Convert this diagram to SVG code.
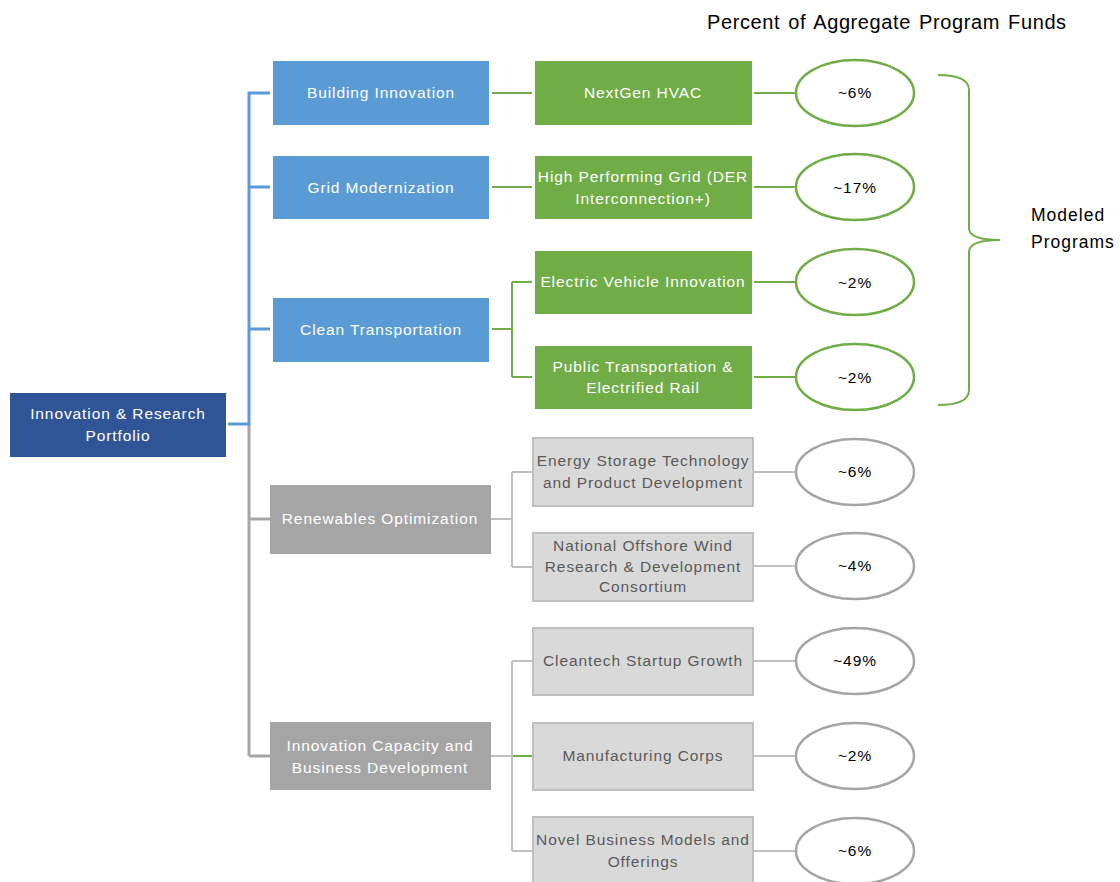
<svg xmlns="http://www.w3.org/2000/svg" width="1120" height="882" viewBox="0 0 1120 882">
<style>
text{font-family:"Liberation Sans",Arial,sans-serif;font-size:15.5px;letter-spacing:0.9px;text-anchor:middle}
text.st{text-anchor:start}
text.title{font-size:20px;letter-spacing:0.6px;word-spacing:2px}
text.mod{font-size:17.5px;letter-spacing:1px}
.w{fill:#ffffff}
.g{fill:#595959}
.k{fill:#000000}
.root{fill:#2F5597}
.blue{fill:#5B9BD5}
.grn{fill:#70AD47}
.dg{fill:#A5A5A5}
.lg{fill:#D9D9D9;stroke:#BFBFBF;stroke-width:2}
.eg{fill:#ffffff;stroke:#70AD47;stroke-width:2.5}
.ey{fill:#ffffff;stroke:#A5A5A5;stroke-width:2.5}
.cb{fill:none;stroke:#5B9BD5;stroke-width:3}
.cg{fill:none;stroke:#70AD47;stroke-width:2}
.cd{fill:none;stroke:#A5A5A5;stroke-width:3}
.cl{fill:none;stroke:#BFBFBF;stroke-width:2}
</style>
<rect width="1120" height="882" fill="#ffffff"/>
<g id="connectors">
<path class="cd" d="M249 424 V756 M249 519 H270 M249 756 H270"/>
<path class="cb" d="M228 424 H249 V93 H270 M249 187 H270 M249 329 H270"/>
<path class="cg" d="M492 93 H532 M492 187 H532 M492 329 H512 M512 282 V377 M512 282 H532 M512 377 H532"/>
<path class="cg" d="M754 93 H796 M754 187 H796 M754 282 H796 M754 377 H796"/>
<path class="cl" d="M491 519 H512 M512 472 V567 M512 472 H533 M512 567 H533"/>
<path class="cl" d="M491 756 H512 M512 661 V851 M512 661 H533 M512 851 H533"/>
<path class="cg" d="M513 756 H533"/>
<path class="cl" d="M753 472 H796 M753 566 H796 M753 661 H796 M753 756 H796 M753 851 H796"/>
<path class="cg" d="M938 75 Q969 75 969 90 V228 Q969 240 1000 240 Q969 240 969 252 V390 Q969 405 938 405"/>
</g>
<g id="title"><text class="k st title" x="707" y="29">Percent of Aggregate Program Funds</text></g>
<g id="modeled"><text class="k st mod" x="1031" y="221">Modeled</text><text class="k st mod" x="1031" y="248">Programs</text></g>
<g id="root"><rect class="root" x="10" y="393" width="216" height="64"/><text class="w" x="118" y="419">Innovation &amp; Research</text><text class="w" x="118" y="441">Portfolio</text></g>
<g id="building"><rect class="blue" x="273" y="61" width="216" height="64"/><text class="w" x="381" y="98">Building Innovation</text></g>
<g id="grid"><rect class="blue" x="273" y="156" width="216" height="63"/><text class="w" x="381" y="193">Grid Modernization</text></g>
<g id="clean"><rect class="blue" x="273" y="298" width="216" height="64"/><text class="w" x="381" y="335">Clean Transportation</text></g>
<g id="renew"><rect class="dg" x="270" y="485" width="221" height="69"/><text class="w" x="380" y="524">Renewables Optimization</text></g>
<g id="icbd"><rect class="dg" x="270" y="722" width="221" height="68"/><text class="w" x="380" y="751">Innovation Capacity and</text><text class="w" x="380" y="773">Business Development</text></g>
<g id="nextgen"><rect class="grn" x="535" y="61" width="217" height="64"/><text class="w" x="643" y="98">NextGen HVAC</text></g>
<g id="hpg"><rect class="grn" x="535" y="156" width="217" height="63"/><text class="w" x="643" y="182">High Performing Grid (DER</text><text class="w" x="643" y="204">Interconnection+)</text></g>
<g id="ev"><rect class="grn" x="535" y="251" width="217" height="63"/><text class="w" x="643" y="287">Electric Vehicle Innovation</text></g>
<g id="pt"><rect class="grn" x="535" y="346" width="217" height="63"/><text class="w" x="643" y="372">Public Transportation &amp;</text><text class="w" x="643" y="393">Electrified Rail</text></g>
<g id="storage"><rect class="lg" x="533" y="438" width="220" height="68"/><text class="g" x="643" y="466">Energy Storage Technology</text><text class="g" x="643" y="488">and Product Development</text></g>
<g id="wind"><rect class="lg" x="533" y="533" width="220" height="68"/><text class="g" x="643" y="551">National Offshore Wind</text><text class="g" x="643" y="572">Research &amp; Development</text><text class="g" x="643" y="592">Consortium</text></g>
<g id="cleantech"><rect class="lg" x="533" y="628" width="220" height="67"/><text class="g" x="643" y="666">Cleantech Startup Growth</text></g>
<g id="mfg"><rect class="lg" x="533" y="723" width="220" height="67"/><text class="g" x="643" y="761">Manufacturing Corps</text></g>
<g id="novel"><rect class="lg" x="533" y="817" width="220" height="70"/><text class="g" x="643" y="845">Novel Business Models and</text><text class="g" x="643" y="867">Offerings</text></g>
<g id="e1"><ellipse class="eg" cx="855" cy="93" rx="59" ry="33"/><text class="k" x="855" y="98">~6%</text></g>
<g id="e2"><ellipse class="eg" cx="855" cy="187" rx="59" ry="33"/><text class="k" x="855" y="193">~17%</text></g>
<g id="e3"><ellipse class="eg" cx="855" cy="282" rx="59" ry="33"/><text class="k" x="855" y="288">~2%</text></g>
<g id="e4"><ellipse class="eg" cx="855" cy="377" rx="59" ry="33"/><text class="k" x="855" y="383">~2%</text></g>
<g id="e5"><ellipse class="ey" cx="855" cy="472" rx="59" ry="33"/><text class="k" x="855" y="477">~6%</text></g>
<g id="e6"><ellipse class="ey" cx="855" cy="566" rx="59" ry="33"/><text class="k" x="855" y="571">~4%</text></g>
<g id="e7"><ellipse class="ey" cx="855" cy="661" rx="59" ry="33"/><text class="k" x="855" y="666">~49%</text></g>
<g id="e8"><ellipse class="ey" cx="855" cy="756" rx="59" ry="33"/><text class="k" x="855" y="761">~2%</text></g>
<g id="e9"><ellipse class="ey" cx="855" cy="851" rx="59" ry="33"/><text class="k" x="855" y="856">~6%</text></g>
</svg>
